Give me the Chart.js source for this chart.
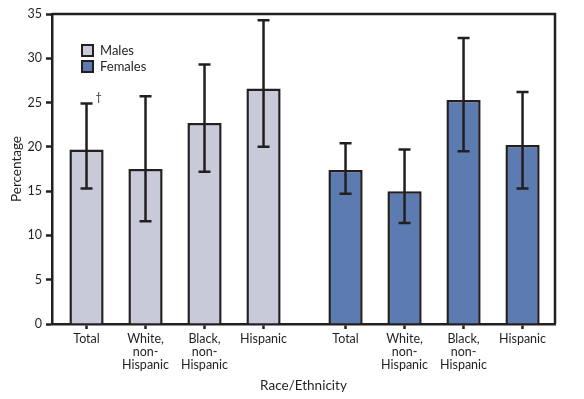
<!DOCTYPE html>
<html>
<head>
<meta charset="utf-8">
<script src="https://cdn.jsdelivr.net/npm/chart.js@4.4.1/dist/chart.umd.min.js"></script>
<style>
  html, body { margin: 0; padding: 0; background: #fff; }
  #wrap { width: 584px; height: 399px; }
</style>
</head>
<body>
<div id="wrap"><canvas id="myChart"></canvas></div>
<script>
// categories (same for both groups)
const categories = ["Total", ["White,", "non-", "Hispanic"], ["Black,", "non-", "Hispanic"], "Hispanic"];

// percentages and 95% CI
const males = [19.7, 17.5, 22.7, 26.6];
const malesLow = [15.3, 11.6, 17.2, 20.0];
const malesHigh = [24.9, 25.7, 29.3, 34.3];

const females = [17.4, 15.0, 25.3, 20.2];
const femalesLow = [14.7, 11.4, 19.5, 15.3];
const femalesHigh = [20.4, 19.7, 32.3, 26.2];

const yTicks = [0, 5, 10, 15, 20, 25, 30, 35];

const INK = "#231f20";
const MALE_COLOR = "#c8c9d9";
const FEMALE_COLOR = "#5b7bb1";
const FONT = "Lato";
const GROUP_GAP = 1.39; // space between the two groups, in bar slots

const malePos = males.map((v, i) => i);
const femalePos = females.map((v, i) => i + males.length - 1 + GROUP_GAP);
const allPos = malePos.concat(femalePos);
const allLabels = categories.concat(categories);

const ctx = document.getElementById("myChart");

const errorBars = {
  id: "errorBars",
  afterDatasetsDraw(chart) {
    const c = chart.ctx;
    const y = chart.scales.y;
    const ranges = [[malesLow, malesHigh], [femalesLow, femalesHigh]];
    c.save();
    c.strokeStyle = INK;
    c.lineWidth = 2.5;
    chart.data.datasets.forEach((ds, di) => {
      const meta = chart.getDatasetMeta(di);
      meta.data.forEach((bar, i) => {
        const lo = y.getPixelForValue(ranges[di][0][i]);
        const hi = y.getPixelForValue(ranges[di][1][i]);
        c.beginPath();
        c.moveTo(bar.x, lo);
        c.lineTo(bar.x, hi);
        c.moveTo(bar.x - 6, lo);
        c.lineTo(bar.x + 6, lo);
        c.moveTo(bar.x - 6, hi);
        c.lineTo(bar.x + 6, hi);
        c.stroke();
      });
    });
    // dagger footnote mark on first bar
    const first = chart.getDatasetMeta(0).data[0];
    c.fillStyle = INK;
    c.font = "11px " + FONT;
    c.textAlign = "left";
    c.textBaseline = "middle";
    c.fillText("\u2020", first.x + 9, y.getPixelForValue(malesHigh[0]) - 6);

    // frame (top and right)
    const a = chart.chartArea;
    c.lineWidth = 2.5;
    c.beginPath();
    c.moveTo(a.left, a.top);
    c.lineTo(a.right, a.top);
    c.lineTo(a.right, a.bottom);
    c.stroke();

    // legend inside plot
    const items = [["Males", MALE_COLOR], ["Females", FEMALE_COLOR]];
    c.font = "13px " + FONT;
    items.forEach((it, k) => {
      const bx = 82, by = 45 + k * 16;
      c.fillStyle = it[1];
      c.fillRect(bx, by, 11, 11);
      c.lineWidth = 2;
      c.strokeRect(bx, by, 11, 11);
      c.fillStyle = INK;
      c.fillText(it[0], bx + 18, by + 5.5);
    });
    c.restore();
  },
};

const config = {
  type: "bar",
  data: {
    datasets: [
      {
        label: "Males",
        data: males.map((v, i) => ({ x: malePos[i], y: v })),
        backgroundColor: MALE_COLOR,
        borderColor: INK,
        borderWidth: 2.5,
        grouped: false,
        barPercentage: 0.58,
        categoryPercentage: 1,
      },
      {
        label: "Females",
        data: females.map((v, i) => ({ x: femalePos[i], y: v })),
        backgroundColor: FEMALE_COLOR,
        borderColor: INK,
        borderWidth: 2.5,
        grouped: false,
        barPercentage: 0.58,
        categoryPercentage: 1,
      },
    ],
  },
  options: {
    responsive: true,
    maintainAspectRatio: false,
    animation: false,
    layout: { padding: { left: 0, right: 29, top: 14, bottom: 0 } },
    plugins: {
      legend: { display: false },
      tooltip: { enabled: false },
    },
    scales: {
      x: {
        type: "linear",
        min: -0.585,
        max: 7.94,
        offset: false,
        afterBuildTicks: (scale) => {
          scale.ticks = allPos.map((v) => ({ value: v }));
        },
        afterFit: (scale) => {
          scale.height = 75;
        },
        ticks: {
          autoSkip: false,
          maxRotation: 0,
          padding: 3,
          color: INK,
          font: { family: FONT, size: 12.5, lineHeight: 1.05 },
          callback: (value, index) => allLabels[index],
        },
        grid: {
          offset: false,
          drawOnChartArea: false,
          drawTicks: true,
          tickLength: 5,
          tickWidth: 2.5,
          tickColor: INK,
        },
        border: { display: true, color: INK, width: 2.5 },
        title: {
          display: true,
          text: "Race/Ethnicity",
          color: INK,
          font: { family: FONT, size: 13.5 },
          padding: { top: 0, bottom: 5 },
        },
      },
      y: {
        min: 0,
        max: 35,
        afterBuildTicks: (scale) => {
          scale.ticks = yTicks.map((v) => ({ value: v }));
        },
        afterFit: (scale) => {
          scale.width = 52;
        },
        ticks: {
          padding: 4,
          color: INK,
          font: { family: FONT, size: 12.5 },
        },
        grid: {
          drawOnChartArea: false,
          drawTicks: true,
          tickLength: 6,
          tickWidth: 2.5,
          tickColor: INK,
        },
        border: { display: true, color: INK, width: 2.5 },
        title: {
          display: true,
          text: "Percentage",
          color: INK,
          font: { family: FONT, size: 13.5 },
          padding: { top: 9, bottom: 0 },
        },
      },
    },
  },
  plugins: [errorBars],
};

const myChart = new Chart(ctx, config);
</script>
</body>
</html>
